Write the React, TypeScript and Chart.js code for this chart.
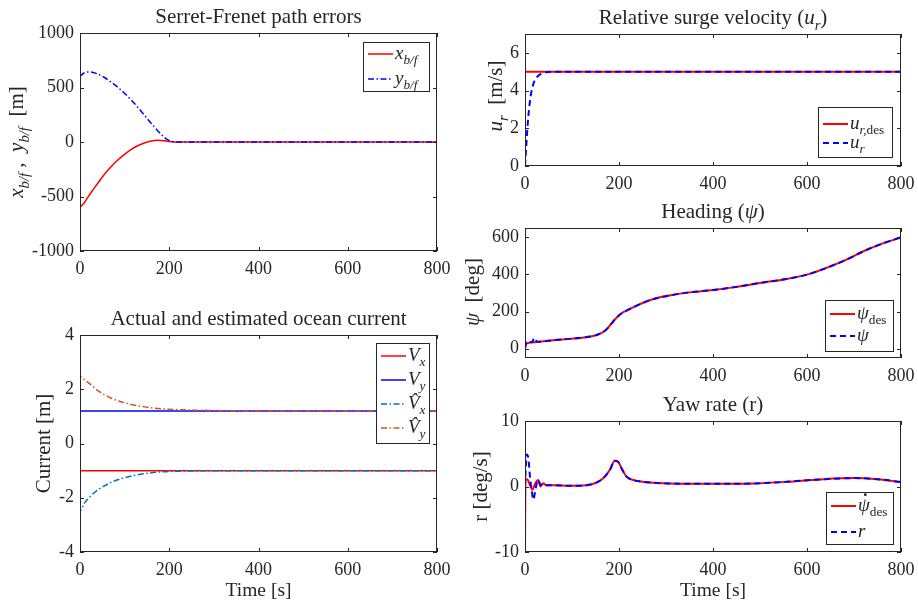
import React, { useEffect, useRef } from 'react';
import { Chart, registerables } from 'chart.js';
Chart.register(...registerables);

const W = 918;
const H = 604;
const FONT = '"Liberation Serif", "Times New Roman", serif';
const TXT = '#262626';
const RED = '#ff0000';
const BLUE = '#0000ff';
const MBLUE = '#0072bd';
const MORANGE = '#d95319';

// ---------- data ----------
const TIME_TICKS = [0, 200, 400, 600, 800];

// Panel 1: Serret-Frenet path errors
const P1_T = [0, 9, 24, 39, 54, 69, 84, 99, 114, 129, 144, 159, 174, 189, 196, 204, 215, 250, 400, 600, 800];
const P1_XBF = [-600, -560, -468, -383, -300, -230, -168, -116, -70, -34, -9, 9, 17, 12, 7, 3, 0, 0, 0, 0, 0];
const P1_YBF = [600, 633, 643, 624, 594, 551, 505, 450, 389, 321, 248, 174, 104, 43, 21, 8, 1, 0, 0, 0, 0];
const P1_YTICKS = [-1000, -500, 0, 500, 1000];

// Panel 2: ocean current
const P2_T_CONST = [0, 800];
const P2_VX = [-1, -1];
const P2_VY = [1.2, 1.2];
const P2_T = [0, 0.5, 10, 25, 40, 55, 70, 90, 115, 145, 180, 220, 260, 300, 350, 400, 500, 800];
const P2_VXHAT = [0, -2.47, -2.2, -1.92, -1.71, -1.56, -1.43, -1.31, -1.2, -1.11, -1.05, -1.02, -1.01, -1.0, -1.0, -1.0, -1.0, -1.0];
const P2_VYHAT = [0, 2.47, 2.35, 2.16, 1.95, 1.8, 1.67, 1.55, 1.44, 1.35, 1.28, 1.25, 1.23, 1.215, 1.205, 1.2, 1.2, 1.2];
const P2_YTICKS = [-4, -2, 0, 2, 4];

// Panel 3: relative surge velocity
const P3_T_DES = [0, 800];
const P3_UDES = [5, 5];
const P3_T = [0, 3, 6, 9, 12, 16, 20, 25, 30, 35, 45, 60, 800];
const P3_U = [0, 1.2, 2.3, 3.1, 3.7, 4.2, 4.5, 4.7, 4.82, 4.9, 4.97, 5, 5];
const P3_YTICKS = [0, 2, 4, 6];

// Panel 4: heading
const P4_T_DES = [0, 5, 12, 25, 40, 60, 95, 130, 150, 165, 175, 187, 198, 208, 220, 240, 270, 310, 345, 400, 450, 500, 550, 600, 640, 685, 720, 756, 800];
const P4_PSIDES = [38, 30, 33, 36, 40, 46, 53, 62, 72, 88, 108, 145, 175, 195, 210, 235, 265, 288, 302, 316, 333, 354, 373, 399, 434, 481, 525, 562, 600];
const P4_T = [0, 3, 7, 12, 16, 19, 22, 26, 40, 60, 95, 130, 150, 165, 175, 187, 198, 208, 220, 240, 270, 310, 345, 400, 450, 500, 550, 600, 640, 685, 720, 756, 800];
const P4_PSI = [0, 30, 40, 36, 37, 58, 50, 37, 40, 46, 53, 62, 72, 88, 108, 145, 175, 195, 210, 235, 265, 288, 302, 316, 333, 354, 373, 399, 434, 481, 525, 562, 600];
const P4_YTICKS = [0, 200, 400, 600];

// Panel 5: yaw rate
const P5_T_DES = [0, 0.8, 5, 9, 16, 21, 28, 33, 39, 45, 60, 96, 131, 152, 167, 181, 191, 199, 206, 216, 230, 245, 274, 309, 345, 416, 486, 557, 628, 699, 756, 800];
const P5_RDES = [-10, 1.0, 1.1, 0.5, -0.5, 0.35, 1.0, 0.0, 0.5, 0.2, 0.2, 0.1, 0.2, 0.6, 1.3, 2.6, 3.95, 3.7, 2.7, 1.5, 1.0, 0.77, 0.56, 0.46, 0.41, 0.41, 0.46, 0.72, 1.08, 1.28, 1.08, 0.67];
const P5_T = [0, 3.5, 7, 10.6, 14, 18, 21, 25, 28, 33, 39, 45, 60, 96, 131, 152, 167, 181, 191, 199, 206, 216, 230, 245, 274, 309, 345, 416, 486, 557, 628, 699, 756, 800];
const P5_R = [0, 4.9, 4.4, 1.5, -0.5, -2.0, -1.0, 0.5, 1.0, 0.25, 0.4, 0.2, 0.2, 0.1, 0.2, 0.6, 1.3, 2.6, 3.95, 3.7, 2.7, 1.5, 1.0, 0.77, 0.56, 0.46, 0.41, 0.41, 0.46, 0.72, 1.08, 1.28, 1.08, 0.67];
const P5_YTICKS = [-10, 0, 10];

// ---------- rich text ----------
type Seg = { t: string; it?: boolean; sub?: boolean; dot?: boolean };

function segFont(s: Seg, size: number) {
  const sz = s.sub ? size * 0.7 : size;
  return `${s.it ? 'italic ' : ''}${sz}px ${FONT}`;
}
function measureRich(ctx: CanvasRenderingContext2D, segs: Seg[], size: number) {
  let w = 0;
  for (const s of segs) {
    ctx.font = segFont(s, size);
    w += ctx.measureText(s.t).width;
  }
  return w;
}
function drawRich(ctx: CanvasRenderingContext2D, segs: Seg[], x: number, y: number, size: number, align: 'left' | 'center') {
  ctx.save();
  ctx.textBaseline = 'alphabetic';
  ctx.textAlign = 'left';
  ctx.fillStyle = TXT;
  let cx = align === 'center' ? x - measureRich(ctx, segs, size) / 2 : x;
  for (const s of segs) {
    ctx.font = segFont(s, size);
    const yy = y + (s.sub ? size * 0.28 : 0);
    ctx.fillText(s.t, cx, yy);
    const w = ctx.measureText(s.t).width;
    if (s.dot) {
      ctx.beginPath();
      ctx.arc(cx + w * 0.62, yy - size * 0.86, size * 0.075, 0, Math.PI * 2);
      ctx.fill();
    }
    cx += w;
  }
  ctx.restore();
}

// ---------- panels ----------
type Series = { t: number[]; v: number[]; color: string; dash: number[]; label: Seg[] };
type Panel = {
  area: [number, number, number, number];
  ymin: number; ymax: number; yticks: number[];
  lw: number;
  title: Seg[];
  ylabel: Seg[]; ylabelOff: number; ylabelDy: number;
  xlabel?: Seg[];
  legend: { right: number; top?: number; bottom?: number; w: number; h: number; rows: number[] };
  series: Series[];
};

const DASHDOT = [6, 2.5, 1.5, 2.5];
const DASH = [6, 4];

const PANELS: Panel[] = [
  {
    area: [80, 33, 437, 251],
    ymin: -1000, ymax: 1000, yticks: P1_YTICKS, lw: 1.5,
    title: [{ t: 'Serret-Frenet path errors' }],
    ylabel: [{ t: 'x', it: true }, { t: 'b/f', it: true, sub: true }, { t: ' ,  ' }, { t: 'y', it: true }, { t: 'b/f', it: true, sub: true }, { t: '  [m]' }],
    ylabelOff: 64, ylabelDy: 0,
    legend: { right: 8, top: 9, w: 66, h: 49, rows: [12, 37] },
    series: [
      { t: P1_T, v: P1_XBF, color: RED, dash: [], label: [{ t: 'x', it: true }, { t: 'b/f', it: true, sub: true }] },
      { t: P1_T, v: P1_YBF, color: BLUE, dash: DASHDOT, label: [{ t: 'y', it: true }, { t: 'b/f', it: true, sub: true }] },
    ],
  },
  {
    area: [80, 335, 437, 552],
    ymin: -4, ymax: 4, yticks: P2_YTICKS, lw: 1.5,
    title: [{ t: 'Actual and estimated ocean current' }],
    ylabel: [{ t: 'Current [m]' }],
    ylabelOff: 37, ylabelDy: 0,
    xlabel: [{ t: 'Time [s]' }],
    legend: { right: 8, top: 8, w: 53, h: 100, rows: [13, 37, 61, 85] },
    series: [
      { t: P2_T_CONST, v: P2_VX, color: RED, dash: [], label: [{ t: 'V', it: true }, { t: 'x', it: true, sub: true }] },
      { t: P2_T_CONST, v: P2_VY, color: BLUE, dash: [], label: [{ t: 'V', it: true }, { t: 'y', it: true, sub: true }] },
      { t: P2_T, v: P2_VXHAT, color: MBLUE, dash: DASHDOT, label: [{ t: 'V\u0302', it: true }, { t: 'x', it: true, sub: true }] },
      { t: P2_T, v: P2_VYHAT, color: MORANGE, dash: DASHDOT, label: [{ t: 'V\u0302', it: true }, { t: 'y', it: true, sub: true }] },
    ],
  },
  {
    area: [525, 34, 901, 166],
    ymin: 0, ymax: 7, yticks: P3_YTICKS, lw: 2,
    title: [{ t: 'Relative surge velocity (' }, { t: 'u', it: true }, { t: 'r', it: true, sub: true }, { t: ')' }],
    ylabel: [{ t: 'u', it: true }, { t: 'r', it: true, sub: true }, { t: '  [m/s]' }],
    ylabelOff: 30, ylabelDy: -4,
    legend: { right: 9, bottom: 9, w: 74, h: 50, rows: [17, 36] },
    series: [
      { t: P3_T_DES, v: P3_UDES, color: RED, dash: [], label: [{ t: 'u', it: true }, { t: 'r,', it: true, sub: true }, { t: 'des', sub: true }] },
      { t: P3_T, v: P3_U, color: BLUE, dash: DASH, label: [{ t: 'u', it: true }, { t: 'r', it: true, sub: true }] },
    ],
  },
  {
    area: [525, 228, 901, 358],
    ymin: -50, ymax: 650, yticks: P4_YTICKS, lw: 2,
    title: [{ t: 'Heading (' }, { t: 'ψ', it: true }, { t: ')' }],
    ylabel: [{ t: 'ψ', it: true }, { t: '  [deg]' }],
    ylabelOff: 53, ylabelDy: -1,
    legend: { right: 8, bottom: 7, w: 68, h: 51, rows: [14, 36] },
    series: [
      { t: P4_T_DES, v: P4_PSIDES, color: RED, dash: [], label: [{ t: 'ψ', it: true }, { t: 'des', sub: true }] },
      { t: P4_T, v: P4_PSI, color: BLUE, dash: DASH, label: [{ t: 'ψ', it: true }] },
    ],
  },
  {
    area: [525, 421, 901, 552],
    ymin: -10, ymax: 10, yticks: P5_YTICKS, lw: 2,
    title: [{ t: 'Yaw rate (r)' }],
    ylabel: [{ t: 'r [deg/s]' }],
    ylabelOff: 45, ylabelDy: 0,
    xlabel: [{ t: 'Time [s]' }],
    legend: { right: 8, bottom: 8, w: 67, h: 52, rows: [14, 40] },
    series: [
      { t: P5_T_DES, v: P5_RDES, color: RED, dash: [], label: [{ t: 'ψ', it: true, dot: true }, { t: 'des', sub: true }] },
      { t: P5_T, v: P5_R, color: BLUE, dash: DASH, label: [{ t: 'r', it: true }] },
    ],
  },
];

const TICK_SIZE = 18;
const TITLE_SIZE = 21;
const YLABEL_SIZE = 21;
const XLABEL_SIZE = 19.5;
const LEGEND_SIZE = 19;

function decorPlugin(p: Panel) {
  return {
    id: 'decor',
    afterDraw(chart: any) {
      const ctx: CanvasRenderingContext2D = chart.ctx;
      const a = chart.chartArea;
      const xs = chart.scales.x;
      const ys = chart.scales.y;
      ctx.save();
      // box
      ctx.strokeStyle = TXT;
      ctx.lineWidth = 1;
      ctx.setLineDash([]);
      ctx.strokeRect(a.left + 0.5, a.top + 0.5, a.right - a.left - 1, a.bottom - a.top - 1);
      // inward ticks
      const tl = 4;
      ctx.beginPath();
      for (const v of TIME_TICKS) {
        const px = Math.round(xs.getPixelForValue(v)) + 0.5;
        ctx.moveTo(px, a.bottom); ctx.lineTo(px, a.bottom - tl);
        ctx.moveTo(px, a.top); ctx.lineTo(px, a.top + tl);
      }
      for (const v of p.yticks) {
        const py = Math.round(ys.getPixelForValue(v)) + 0.5;
        ctx.moveTo(a.left, py); ctx.lineTo(a.left + tl, py);
        ctx.moveTo(a.right, py); ctx.lineTo(a.right - tl, py);
      }
      ctx.stroke();
      const cx = (a.left + a.right) / 2;
      const cy = (a.top + a.bottom) / 2;
      // title
      drawRich(ctx, p.title, cx, a.top - 10, TITLE_SIZE, 'center');
      // y label
      ctx.save();
      ctx.translate(a.left - p.ylabelOff + 7, cy + p.ylabelDy);
      ctx.rotate(-Math.PI / 2);
      drawRich(ctx, p.ylabel, 0, 0, YLABEL_SIZE, 'center');
      ctx.restore();
      // x label
      if (p.xlabel) drawRich(ctx, p.xlabel, cx, a.bottom + 44, XLABEL_SIZE, 'center');
      // legend
      const L = p.legend;
      const bx = a.right - L.right - L.w;
      const by = L.top !== undefined ? a.top + L.top : a.bottom - (L.bottom || 0) - L.h;
      ctx.fillStyle = '#ffffff';
      ctx.fillRect(bx, by, L.w, L.h);
      ctx.strokeStyle = TXT;
      ctx.lineWidth = 1;
      ctx.strokeRect(Math.round(bx) + 0.5, Math.round(by) + 0.5, L.w, L.h);
      p.series.forEach((s, i) => {
        const ry = by + L.rows[i];
        ctx.save();
        ctx.strokeStyle = s.color;
        ctx.lineWidth = p.lw;
        ctx.setLineDash(s.dash);
        ctx.beginPath();
        ctx.moveTo(bx + 5, ry);
        ctx.lineTo(bx + 30, ry);
        ctx.stroke();
        ctx.restore();
        drawRich(ctx, s.label, bx + 32, ry + 5, LEGEND_SIZE, 'left');
      });
      ctx.restore();
    },
  };
}

function makeConfig(p: Panel): any {
  const [L, T, R, B] = p.area;
  const YW = 60;
  const XH = 30;
  return {
    type: 'line',
    data: {
      datasets: p.series.map((s, idx) => ({
        data: s.t.map((t, i) => ({ x: t, y: s.v[i] })),
        borderColor: s.color,
        borderWidth: p.lw,
        borderDash: s.dash,
        pointRadius: 0,
        fill: false,
        order: -idx,
        cubicInterpolationMode: 'monotone',
      })),
    },
    options: {
      responsive: false,
      animation: false,
      events: [],
      layout: { padding: { left: L - YW, top: T, right: W - R, bottom: H - B - XH } },
      plugins: { legend: { display: false }, title: { display: false }, tooltip: { enabled: false } },
      scales: {
        x: {
          type: 'linear', min: 0, max: 800, position: 'bottom',
          grid: { display: false, drawTicks: false }, border: { display: false },
          ticks: { font: { family: FONT, size: TICK_SIZE }, color: TXT, padding: 7, maxRotation: 0, autoSkip: false, callback: (v: number) => String(v) },
          afterBuildTicks: (s: any) => { s.ticks = TIME_TICKS.map((v) => ({ value: v })); },
          afterFit: (s: any) => { s.height = XH; s.paddingLeft = 0; s.paddingRight = 0; },
        },
        y: {
          type: 'linear', min: p.ymin, max: p.ymax, position: 'left',
          grid: { display: false, drawTicks: false }, border: { display: false },
          ticks: { font: { family: FONT, size: TICK_SIZE }, color: TXT, padding: 6, autoSkip: false, callback: (v: number) => String(v) },
          afterBuildTicks: (s: any) => { s.ticks = p.yticks.map((v) => ({ value: v })); },
          afterFit: (s: any) => { s.width = YW; s.paddingTop = 0; s.paddingBottom = 0; },
        },
      },
    },
    plugins: [decorPlugin(p)],
  };
}

export default function App() {
  const refs = useRef<(HTMLCanvasElement | null)[]>([]);
  useEffect(() => {
    const charts = PANELS.map((p, i) => new Chart(refs.current[i] as HTMLCanvasElement, makeConfig(p)));
    return () => charts.forEach((c) => c.destroy());
  }, []);
  return (
    <div style={{ position: 'absolute', left: 0, top: 0, width: W, height: H, background: '#ffffff' }}>
      {PANELS.map((_, i) => (
        <canvas
          key={i}
          ref={(el) => { refs.current[i] = el; }}
          width={W}
          height={H}
          style={{ position: 'absolute', left: 0, top: 0, width: W, height: H }}
        />
      ))}
    </div>
  );
}
